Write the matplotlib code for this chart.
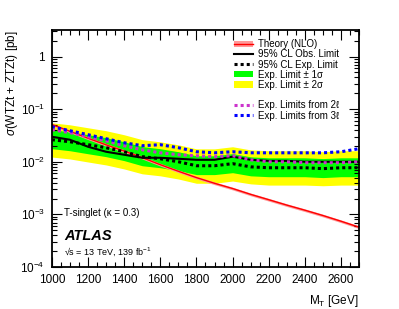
import matplotlib
matplotlib.use("Agg")
import matplotlib.pyplot as plt
from matplotlib.lines import Line2D
from matplotlib.patches import Patch
from matplotlib.ticker import MultipleLocator, LogLocator, NullFormatter

plt.rcParams['font.family'] = ['Liberation Sans', 'DejaVu Sans']
plt.rcParams['mathtext.fontset'] = 'custom'
plt.rcParams['mathtext.rm'] = 'Liberation Sans'
plt.rcParams['mathtext.it'] = 'Liberation Sans:italic'

# mass points [GeV]
mass = [1000, 1100, 1200, 1300, 1400, 1500, 1600, 1700, 1800,
        1900, 2000, 2100, 2200, 2300, 2400, 2500, 2600, 2700]

theory = [0.051, 0.038, 0.028, 0.021, 0.016, 0.012, 0.0088, 0.0066, 0.0050,
          0.0039, 0.0031, 0.0024, 0.0019, 0.0015, 0.0012, 0.00095, 0.00074, 0.00057]

observed = [0.0299, 0.0262, 0.0193, 0.0155, 0.0136, 0.0119, 0.0119, 0.0114, 0.0109,
            0.0109, 0.0125, 0.0109, 0.0104, 0.0104, 0.0100, 0.0100, 0.0100, 0.0100]

expected = [0.0262, 0.0240, 0.0211, 0.0185, 0.0155, 0.0125, 0.0114, 0.0100, 0.0084,
            0.0084, 0.0092, 0.0080, 0.0077, 0.0077, 0.0077, 0.0074, 0.0077, 0.0077]

exp_p1 = [0.0406, 0.0372, 0.0327, 0.0287, 0.0240, 0.0194, 0.0177, 0.0155, 0.0130,
          0.0130, 0.0143, 0.0124, 0.0119, 0.0119, 0.0119, 0.0115, 0.0119, 0.0119]
exp_m1 = [0.0177, 0.0162, 0.0142, 0.0125, 0.0105, 0.0084, 0.0077, 0.0068, 0.0057,
          0.0057, 0.0062, 0.0054, 0.0052, 0.0052, 0.0052, 0.0050, 0.0052, 0.0052]
exp_p2 = [0.0550, 0.0504, 0.0443, 0.0389, 0.0326, 0.0263, 0.0239, 0.0210, 0.0176,
          0.0176, 0.0193, 0.0168, 0.0162, 0.0162, 0.0162, 0.0155, 0.0162, 0.0162]
exp_m2 = [0.0123, 0.0113, 0.0099, 0.0087, 0.0073, 0.0059, 0.0054, 0.0047, 0.0039,
          0.0039, 0.0043, 0.0038, 0.0036, 0.0036, 0.0036, 0.0035, 0.0036, 0.0036]

exp_2l = [0.0407, 0.0357, 0.0299, 0.0251, 0.0202, 0.0169, 0.0148, 0.0136, 0.0130,
          0.0125, 0.0130, 0.0109, 0.0100, 0.0100, 0.0096, 0.0096, 0.0096, 0.0100]
exp_3l = [0.0464, 0.0389, 0.0327, 0.0274, 0.0230, 0.0202, 0.0211, 0.0185, 0.0155,
          0.0148, 0.0155, 0.0148, 0.0148, 0.0148, 0.0148, 0.0148, 0.0155, 0.0177]

th_up = [t * 1.06 for t in theory]
th_dn = [t * 0.94 for t in theory]

fig = plt.figure(figsize=(3.99, 3.09), dpi=100)
ax = fig.add_axes([0.130, 0.136, 0.770, 0.767])

ax.fill_between(mass, exp_m2, exp_p2, color='#ffff00', lw=0)
ax.fill_between(mass, exp_m1, exp_p1, color='#00ff00', lw=0)
ax.fill_between(mass, th_dn, th_up, color='#ff9999', lw=0)
ax.plot(mass, theory, color='#ff0000', lw=1.0)
ax.plot(mass, observed, color='black', lw=1.5)
dot = (0, (1, 1))
ax.plot(mass, expected, color='black', lw=2.2, ls=dot, dash_capstyle='butt')
ax.plot(mass, exp_2l, color='#cc33cc', lw=2.2, ls=dot, dash_capstyle='butt')
ax.plot(mass, exp_3l, color='#0000ff', lw=2.2, ls=dot, dash_capstyle='butt')

ax.set_yscale('log')
ax.set_xlim(1000, 2700)
ax.set_ylim(1e-4, 3.2)
ax.xaxis.set_major_locator(MultipleLocator(200))
ax.xaxis.set_minor_locator(MultipleLocator(50))
ax.yaxis.set_minor_locator(LogLocator(base=10, subs=range(2, 10), numticks=20))
ax.yaxis.set_minor_formatter(NullFormatter())
ax.set_yticks([1e-4, 1e-3, 1e-2, 1e-1, 1])
ax.set_yticklabels([r'10$^{-4}$', r'10$^{-3}$', r'10$^{-2}$', r'10$^{-1}$', '1'])
ax.tick_params(which='both', direction='in', top=True, right=True, labelsize=8.5)
ax.tick_params(which='major', length=7, width=0.8)
ax.tick_params(which='minor', length=3.5, width=0.8)
ax.tick_params(axis='x', pad=5)
ax.tick_params(axis='y', pad=5)
for s in ax.spines.values():
    s.set_linewidth(1.3)

ax.set_xlabel(r'M$_{\mathrm{T}}$ [GeV]', fontsize=8.5, loc='right', labelpad=5)
ax.set_ylabel(r'$\sigma$(WTZt + ZTZt) [pb]', fontsize=8.5, loc='top', labelpad=0)

ax.text(0.04, 0.228, 'T-singlet (κ = 0.3)', transform=ax.transAxes, fontsize=7,
        va='center')
ax.text(0.04, 0.13, 'ATLAS', transform=ax.transAxes, fontsize=10.5,
        weight='bold', style='italic', va='center')
ax.text(0.04, 0.063, '√s = 13 TeV, 139 fb$^{-1}$', transform=ax.transAxes,
        fontsize=6.5, va='center')

handles = [
    (Patch(facecolor='#ff9999', edgecolor='none'), Line2D([], [], color='red', lw=1)),
    Line2D([], [], color='black', lw=1.5),
    Line2D([], [], color='black', lw=2.2, ls=dot, dash_capstyle='butt'),
    Patch(facecolor='#00ff00'),
    Patch(facecolor='#ffff00'),
    Line2D([], [], color='none'),
    Line2D([], [], color='#cc33cc', lw=2.2, ls=dot, dash_capstyle='butt'),
    Line2D([], [], color='#0000ff', lw=2.2, ls=dot, dash_capstyle='butt'),
]
labels = ['Theory (NLO)', '95% CL Obs. Limit', '95% CL Exp. Limit',
          'Exp. Limit ± 1σ', 'Exp. Limit ± 2σ', '',
          'Exp. Limits from 2ℓ', 'Exp. Limits from 3ℓ']
ax.legend(handles, labels, loc='upper left', bbox_to_anchor=(0.57, 0.99),
          frameon=False, fontsize=7, handlelength=2.0, handletextpad=0.5,
          labelspacing=0.02, borderpad=0.2, handleheight=0.6)

fig.savefig('out.png', dpi=100)
